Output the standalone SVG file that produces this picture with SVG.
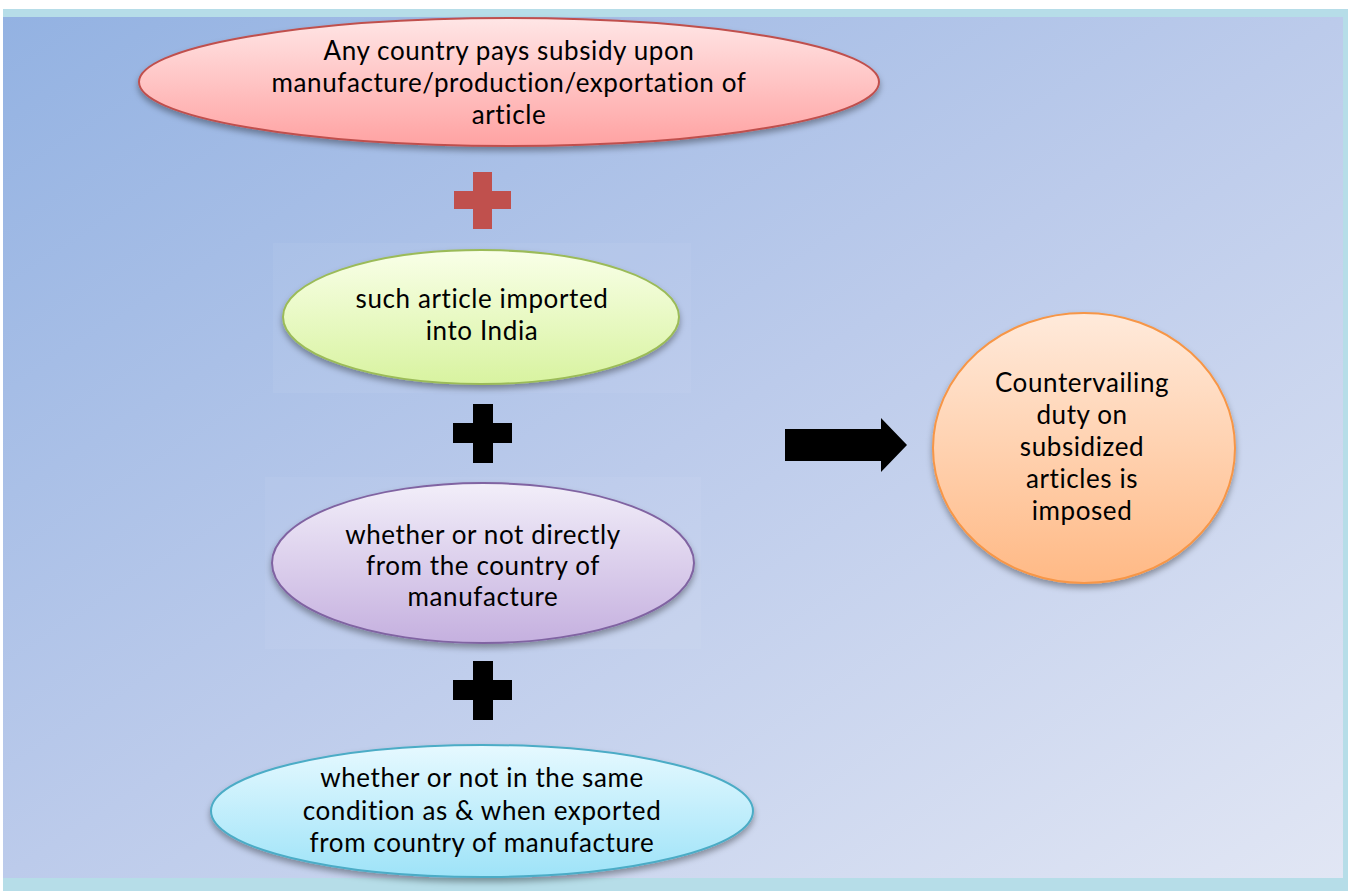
<svg xmlns="http://www.w3.org/2000/svg" width="1348" height="891" viewBox="0 0 1348 891">
<style>
.t{font-family:Lato,"Open Sans","Liberation Sans",sans-serif;font-size:26px;letter-spacing:0.6px;fill:#000;text-anchor:middle}
.box{fill:#ffffff;opacity:0.05}
</style>
<defs>
<linearGradient id="bg" x1="0" y1="0" x2="1" y2="1">
<stop offset="0" stop-color="#93b2e2"/>
<stop offset="0.5" stop-color="#bccbeb"/>
<stop offset="1" stop-color="#e1e6f4"/>
</linearGradient>
<linearGradient id="gr" x1="0" y1="0" x2="0" y2="1"><stop offset="0" stop-color="#ffe6e6"/><stop offset="1" stop-color="#ffa2a2"/></linearGradient>
<linearGradient id="gg" x1="0" y1="0" x2="0" y2="1"><stop offset="0" stop-color="#f9ffe8"/><stop offset="1" stop-color="#d8f3a0"/></linearGradient>
<linearGradient id="gp" x1="0" y1="0" x2="0" y2="1"><stop offset="0" stop-color="#f2eef9"/><stop offset="1" stop-color="#c5b0df"/></linearGradient>
<linearGradient id="gc" x1="0" y1="0" x2="0" y2="1"><stop offset="0" stop-color="#e6f9ff"/><stop offset="1" stop-color="#9ee3f8"/></linearGradient>
<linearGradient id="go" x1="0" y1="0" x2="0" y2="1"><stop offset="0" stop-color="#ffeadb"/><stop offset="1" stop-color="#ffb985"/></linearGradient>
<filter id="sh" x="-10%" y="-20%" width="120%" height="150%">
<feDropShadow dx="0" dy="4" stdDeviation="3" flood-color="#000" flood-opacity="0.35"/>
</filter>
</defs>

<g id="background">
<rect x="0" y="0" width="1348" height="891" fill="#ffffff"/>
<rect x="3" y="9" width="1345" height="882" fill="#b6dde8"/>
<rect x="3" y="17" width="1340" height="861" fill="url(#bg)"/>
</g>

<g id="node-subsidy">
<ellipse cx="509" cy="82" rx="370" ry="64" fill="url(#gr)" stroke="#c0504d" stroke-width="2" filter="url(#sh)"/>
<text class="t" x="509" y="60">Any country pays subsidy upon</text>
<text class="t" x="509" y="92">manufacture/production/exportation of</text>
<text class="t" x="509" y="124">article</text>
</g>

<g id="node-imported">
<rect class="box" x="273" y="243" width="418" height="150"/>
<ellipse cx="481" cy="317" rx="198" ry="67" fill="url(#gg)" stroke="#9bbb59" stroke-width="2" filter="url(#sh)"/>
<text class="t" x="482" y="308">such article imported</text>
<text class="t" x="482" y="340">into India</text>
</g>

<g id="node-directly">
<rect class="box" x="265" y="477" width="436" height="172"/>
<ellipse cx="483" cy="563" rx="211" ry="80" fill="url(#gp)" stroke="#8064a2" stroke-width="2" filter="url(#sh)"/>
<text class="t" x="483" y="544">whether or not directly</text>
<text class="t" x="483" y="575">from the country of</text>
<text class="t" x="483" y="606">manufacture</text>
</g>

<g id="node-condition">
<ellipse cx="482" cy="811" rx="271" ry="66" fill="url(#gc)" stroke="#4bacc6" stroke-width="2" filter="url(#sh)"/>
<text class="t" x="482" y="787">whether or not in the same</text>
<text class="t" x="482" y="820">condition as &amp; when exported</text>
<text class="t" x="482" y="852">from country of manufacture</text>
</g>

<g id="node-result">
<ellipse cx="1084" cy="448" rx="151" ry="135" fill="url(#go)" stroke="#f79646" stroke-width="2" filter="url(#sh)"/>
<text class="t" x="1082" y="392">Countervailing</text>
<text class="t" x="1082" y="424">duty on</text>
<text class="t" x="1082" y="456">subsidized</text>
<text class="t" x="1082" y="488">articles is</text>
<text class="t" x="1082" y="520">imposed</text>
</g>

<g id="connectors">
<path d="M473,172 H492 V191 H511 V209 H492 V229 H473 V209 H454 V191 H473 Z" fill="#c0504d"/>
<path d="M473,404 H493 V423 H512 V443 H493 V463 H473 V443 H453 V423 H473 Z" fill="#000"/>
<path d="M473,661 H493 V680 H512 V700 H493 V720 H473 V700 H453 V680 H473 Z" fill="#000"/>
<path d="M785,429 H881 V418 L907,445 L881,472 V461 H785 Z" fill="#000"/>
</g>
</svg>
